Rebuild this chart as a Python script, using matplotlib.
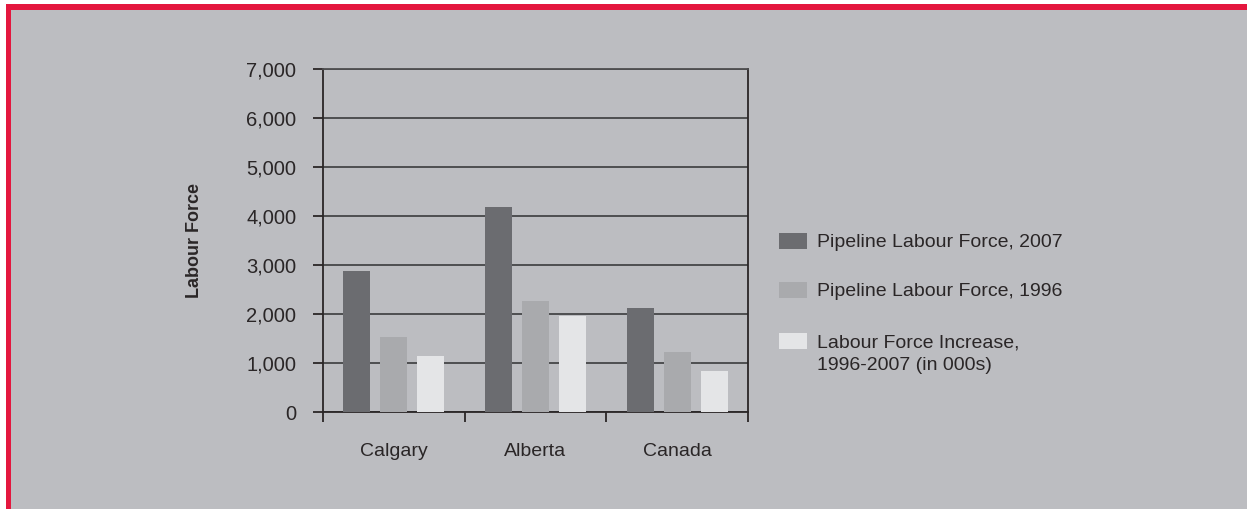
import matplotlib
matplotlib.use("Agg")
import matplotlib.pyplot as plt
from matplotlib.patches import Rectangle
import numpy as np

categories = ["Calgary", "Alberta", "Canada"]
series_labels = ["Pipeline Labour Force, 2007",
                 "Pipeline Labour Force, 1996",
                 "Labour Force Increase,\n1996-2007 (in 000s)"]
force_2007 = [2870, 4190, 2115]
force_1996 = [1530, 2260, 1225]
increase = [1140, 1950, 840]
y_ticks = [0, 1000, 2000, 3000, 4000, 5000, 6000, 7000]
y_tick_labels = ["0", "1,000", "2,000", "3,000", "4,000", "5,000", "6,000", "7,000"]
y_label = "Labour Force"

colors = ["#6b6c70", "#a9aaad", "#e4e5e7"]
red = "#e4173e"
bg = "#bcbdc1"
txt = "#2a2627"

W, H = 1247, 509
fig = plt.figure(figsize=(W / 100, H / 100), dpi=100)
fig.patch.set_facecolor("white")
fig.patches.append(Rectangle((6 / W, 0), 1 - 6 / W, (H - 4) / H, transform=fig.transFigure,
                             facecolor=red, edgecolor="none", zorder=-3))
fig.patches.append(Rectangle((11 / W, 0), 1 - 11 / W, (H - 10) / H, transform=fig.transFigure,
                             facecolor=bg, edgecolor="none", zorder=-2))

plt.rcParams["font.family"] = ["Liberation Sans", "DejaVu Sans"]

ax = fig.add_axes([323 / W, 97 / H, 425 / W, 343 / H])
ax.set_facecolor("none")

x = np.arange(len(categories))
width = 0.19
offs = [-0.262, 0.0, 0.262]
for vals, off, c in zip([force_2007, force_1996, increase], offs, colors):
    ax.bar(x + off, vals, width=width, color=c, edgecolor="none", zorder=3)

ax.set_xlim(-0.5, 2.5)
ax.set_ylim(0, 7000)
ax.set_yticks(y_ticks)
ax.set_yticklabels(y_tick_labels)
ax.yaxis.grid(True, color="#4e4e50", linewidth=1.4, zorder=1)
ax.set_axisbelow(True)

ax.set_xticks([-0.5, 0.5, 1.5, 2.5])
ax.set_xticklabels([])
ax.set_xticks(x, minor=True)
ax.set_xticklabels(categories, minor=True, fontsize=14, color=txt)
ax.tick_params(axis="x", which="major", direction="out", length=7.2, width=1.3, color=txt)
ax.tick_params(axis="x", which="minor", length=0, pad=22)
ax.tick_params(axis="y", direction="out", length=7.2, width=1.3, color=txt,
               labelsize=14.5, labelcolor=txt, pad=12)

for s in ["left", "right", "bottom", "top"]:
    ax.spines[s].set_color(txt)
    ax.spines[s].set_linewidth(1.3)
ax.spines["top"].set_color("#4e4e50")

ax.set_ylabel(y_label, fontsize=13, fontweight="bold", color=txt,
              family=["Liberation Sans Narrow", "Liberation Sans"])
ax.yaxis.set_label_coords(-0.282, 0.5)

# legend (drawn manually)
leg_y = [241, 290, 341]
for lab, c, yy in zip(series_labels, colors, leg_y):
    fig.patches.append(Rectangle((779 / W, 1 - (yy + 8) / H), 28 / W, 16 / H,
                                 transform=fig.transFigure, facecolor=c, edgecolor="none"))
    fig.text(817 / W, 1 - (yy - 7) / H, lab, fontsize=14, color=txt, va="top", ha="left",
             linespacing=1.45)

fig.savefig("out.png", dpi=100, facecolor=fig.get_facecolor())
